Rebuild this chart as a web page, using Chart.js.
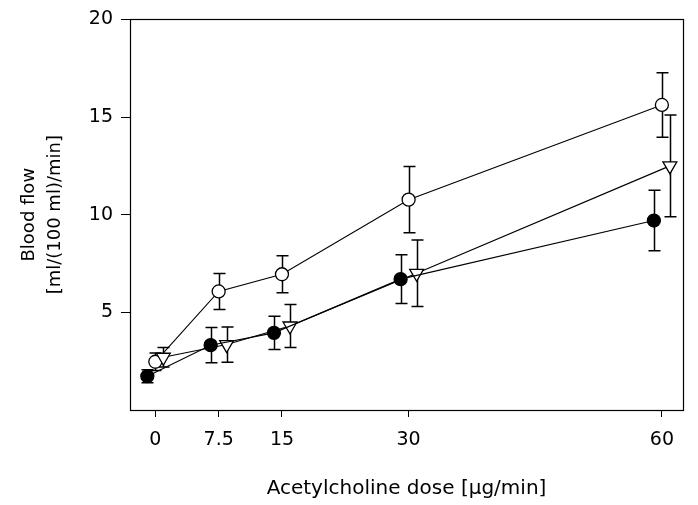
<!DOCTYPE html>
<html><head><meta charset="utf-8">
<script src="https://cdn.jsdelivr.net/npm/chart.js@4"></script>
<style>html,body{margin:0;padding:0;background:#fff}#wrap{width:698px;height:505px}</style>
</head><body><div id="wrap"><canvas id="c" width="698" height="505"></canvas></div>
<script>
// ---- data ----
const doses = [0, 7.5, 15, 30, 60];               // acetylcholine dose, µg/min
const xTickValues = [0, 7.5, 15, 30, 60];
const yTickValues = [5, 10, 15, 20];
const filledMean = [1.73, 3.32, 3.95, 6.70, 9.70];
const filledErr  = [0.33, 0.90, 0.85, 1.25, 1.55];
const openMean   = [2.47, 6.07, 6.95, 10.77, 15.62];
const openErr    = [0.45, 0.92, 0.95, 1.70, 1.65];
const triMean    = [2.70, 3.35, 4.30, 7.00, 12.50];
const triErr     = [0.50, 0.90, 1.10, 1.70, 2.60];

// ---- styles ----
const FONT = "'DejaVu Sans', Verdana, sans-serif";
const seriesStyle = [
  {mean: filledMean, err: filledErr, shift: -8, style: 'circle', radius: 6.5, fill: '#000', rotation: 0},
  {mean: triMean,    err: triErr,    shift: 8,  style: 'triangle', radius: 8, fill: '#fff', rotation: 180},
  {mean: openMean,   err: openErr,   shift: 0,  style: 'circle', radius: 6.5, fill: '#fff', rotation: 0}
];

const datasets = seriesStyle.map(s => ({
  data: doses.map((d, i) => ({x: d, y: s.mean[i]})),
  err: s.err,
  shift: s.shift,
  borderColor: '#000',
  borderWidth: 1.1,
  pointStyle: s.style,
  pointRadius: s.radius,
  pointRotation: s.rotation,
  pointBackgroundColor: s.fill,
  pointBorderColor: '#000',
  pointBorderWidth: 1.3,
  tension: 0,
  fill: false,
  clip: false
}));

const shiftPlugin = {
  id: 'shift',
  beforeDatasetDraw(chart, args) {
    const ds = chart.data.datasets[args.index];
    chart.ctx.save();
    chart.ctx.translate(ds.shift || 0, 0);
  },
  afterDatasetDraw(chart) { chart.ctx.restore(); }
};

const errPlugin = {
  id: 'errbars',
  beforeDatasetsDraw(chart) {
    const {ctx, scales: {x, y}} = chart;
    ctx.save();
    ctx.strokeStyle = '#000';
    ctx.lineWidth = 1.5;
    chart.data.datasets.forEach(ds => {
      ds.data.forEach((p, i) => {
        const px = Math.round(x.getPixelForValue(p.x) + ds.shift) + 0.5;
        const top = y.getPixelForValue(p.y + ds.err[i]);
        const bot = y.getPixelForValue(p.y - ds.err[i]);
        ctx.beginPath();
        ctx.moveTo(px, top); ctx.lineTo(px, bot);
        ctx.moveTo(px - 6, top); ctx.lineTo(px + 6, top);
        ctx.moveTo(px - 6, bot); ctx.lineTo(px + 6, bot);
        ctx.stroke();
      });
    });
    ctx.restore();
  }
};

const framePlugin = {
  id: 'frame',
  afterDraw(chart) {
    const {ctx, chartArea: a} = chart;
    ctx.save();
    ctx.strokeStyle = '#000';
    ctx.lineWidth = 1.2;
    ctx.strokeRect(Math.round(a.left) + 0.5, Math.round(a.top) + 0.5,
                   Math.round(a.right - a.left), Math.round(a.bottom - a.top));
    ctx.restore();
  }
};

new Chart(document.getElementById('c'), {
  type: 'line',
  data: {datasets},
  plugins: [shiftPlugin, errPlugin, framePlugin],
  options: {
    responsive: false,
    animation: false,
    devicePixelRatio: 1,
    layout: {padding: {left: 0, right: 15, top: 18, bottom: 0}},
    plugins: {legend: {display: false}, tooltip: {enabled: false}},
    scales: {
      x: {
        type: 'linear', min: -3, max: 62.5,
        afterBuildTicks: s => { s.ticks = xTickValues.map(v => ({value: v})); },
        afterFit: s => { s.height = 95; },
        border: {display: false},
        grid: {drawOnChartArea: false, drawTicks: true, tickLength: 7, color: '#000', lineWidth: 1},
        ticks: {color: '#000', font: {family: FONT, size: 19}, padding: 12, maxRotation: 0, autoSkip: false,
                callback: v => String(v)},
        title: {display: true, text: 'Acetylcholine dose [μg/min]', color: '#000',
                font: {family: FONT, size: 20}, padding: {top: 0, bottom: 4}}
      },
      y: {
        type: 'linear', min: 0, max: 20,
        afterBuildTicks: s => { s.ticks = yTickValues.map(v => ({value: v})); },
        afterFit: s => { s.width = 130; },
        border: {display: false},
        grid: {drawOnChartArea: false, drawTicks: true, tickLength: 9, color: '#000', lineWidth: 1},
        ticks: {color: '#000', font: {family: FONT, size: 19}, padding: 8},
        title: {display: true, text: ['Blood flow', '[ml/(100 ml)/min]'], color: '#000',
                font: {family: FONT, size: 18, lineHeight: 1.45}, padding: {top: 16, bottom: 0}}
      }
    }
  }
});
</script></body></html>
